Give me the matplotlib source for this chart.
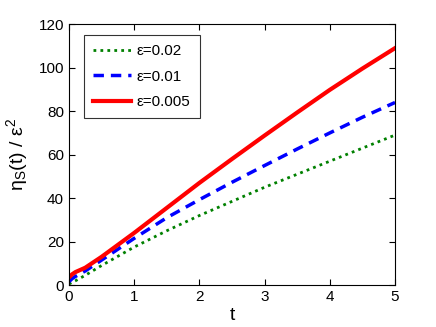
import matplotlib
matplotlib.use("Agg")
import matplotlib.pyplot as plt

plt.rcParams['font.family'] = ['Liberation Sans', 'DejaVu Sans']
plt.rcParams['mathtext.fontset'] = 'custom'
plt.rcParams['mathtext.rm'] = 'Liberation Sans'
plt.rcParams['mathtext.it'] = 'Liberation Sans'

t = [0, 0.05, 0.1, 0.25, 0.5, 1, 1.5, 2, 2.5, 3, 3.5, 4, 4.5, 5]
eta_002 = [0.5, 1.3, 2.0, 4.5, 9.0, 17.5, 25.0, 32.0, 38.5, 45.0, 51.0, 57.0, 63.0, 69.0]
eta_001 = [1.5, 3.0, 4.0, 6.5, 11.5, 21.5, 31.0, 39.3, 47.3, 55.0, 62.6, 70.0, 77.2, 84.0]
eta_0005 = [3.5, 5.0, 6.0, 8.0, 13.0, 24.0, 35.5, 47.0, 58.0, 68.8, 79.4, 89.8, 99.6, 109.0]
labels = ['ε=0.02', 'ε=0.01', 'ε=0.005']
xticks = [0, 1, 2, 3, 4, 5]
yticks = [0, 20, 40, 60, 80, 100, 120]

fig = plt.figure(figsize=(4.36, 3.27), dpi=100)
ax = fig.add_axes([0.158, 0.128, 0.748, 0.798])
ax.plot(t, eta_002, linestyle=(0, (1, 1.5)), color='#008000', lw=2, label=labels[0])
ax.plot(t, eta_001, linestyle=(0, (3, 2)), color='#0000ff', lw=2.5, label=labels[1])
ax.plot(t, eta_0005, linestyle='-', color='#ff0000', lw=3, label=labels[2])

ax.set_xlim(0, 5)
ax.set_ylim(0, 120)
ax.set_xticks(xticks)
ax.set_yticks(yticks)
ax.tick_params(direction='in', top=True, right=True, labelsize=11, length=4, width=0.8)
ax.set_xlabel('t', fontsize=14, labelpad=2)
ax.set_ylabel(r'$\mathregular{\eta_S(t)\ /\ \epsilon^2}$', fontsize=14, labelpad=6)
for s in ax.spines.values():
    s.set_linewidth(0.8)

leg = ax.legend(loc='upper left', bbox_to_anchor=(0.046, 0.958), borderaxespad=0,
                fontsize=11, frameon=True, fancybox=False, edgecolor='black',
                handlelength=2.5, borderpad=0.6, labelspacing=0.75, handletextpad=0.35)
leg.get_frame().set_linewidth(0.8)

fig.savefig('out.png', dpi=100)
